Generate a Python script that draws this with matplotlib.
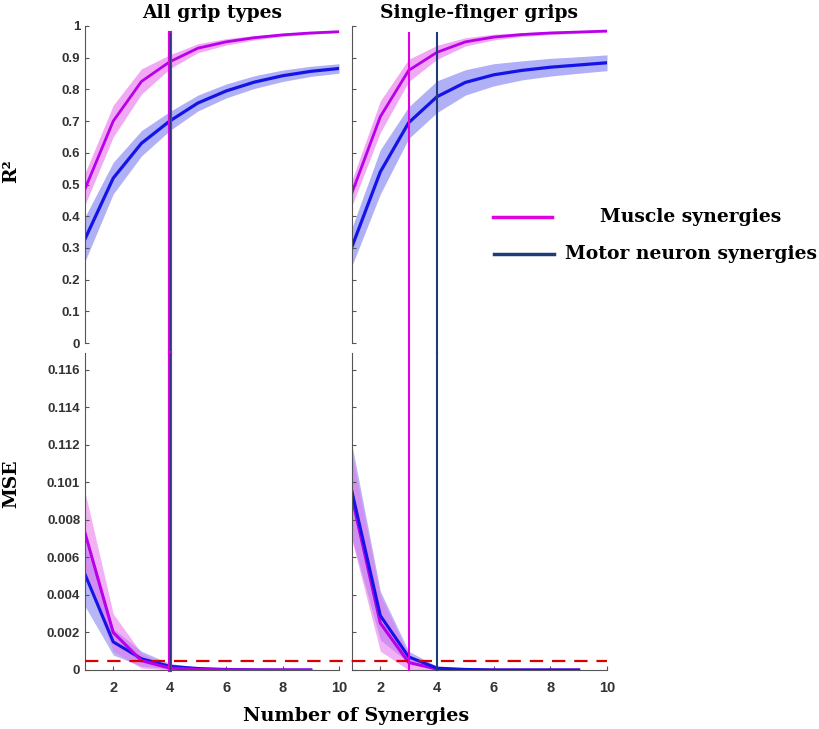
import numpy as np
import matplotlib
matplotlib.use("Agg")
import matplotlib.pyplot as plt
from matplotlib.lines import Line2D

# datos
n_syn = np.arange(1, 11)
n_syn_mse = np.arange(1, 10)

titulos = ["All grip types", "Single-finger grips"]

# R2 (media y desviación)
r2_musc = [[0.486, 0.70, 0.825, 0.887, 0.93, 0.95, 0.963, 0.972, 0.978, 0.982],
           [0.474, 0.714, 0.86, 0.917, 0.95, 0.965, 0.973, 0.978, 0.981, 0.984]]
r2_musc_sd = [[0.05, 0.05, 0.04, 0.022, 0.014, 0.01, 0.007, 0.005, 0.004, 0.003],
              [0.04, 0.05, 0.035, 0.022, 0.013, 0.009, 0.006, 0.005, 0.004, 0.003]]
r2_mn = [[0.328, 0.52, 0.63, 0.70, 0.757, 0.795, 0.823, 0.843, 0.857, 0.866],
         [0.304, 0.54, 0.695, 0.777, 0.822, 0.846, 0.86, 0.87, 0.877, 0.884]]
r2_mn_sd = [[0.07, 0.05, 0.04, 0.03, 0.025, 0.022, 0.02, 0.018, 0.016, 0.015],
            [0.06, 0.07, 0.05, 0.05, 0.04, 0.035, 0.03, 0.028, 0.026, 0.025]]

# MSE (escala "rota" del original)
mse_musc = [[0.0073, 0.0020, 0.0005, 0.0001, 0.00003, 0.00001, 0.0, 0.0, 0.0],
            [0.0092, 0.0025, 0.0004, 0.00005, 0.00001, 0.0, 0.0, 0.0, 0.0]]
mse_musc_sd = [[0.0022, 0.0010, 0.0004, 0.0001, 0.00003, 0.00001, 0.0, 0.0, 0.0],
               [0.0023, 0.0015, 0.0004, 0.0001, 0.00002, 0.0, 0.0, 0.0, 0.0]]
mse_mn = [[0.0051, 0.0015, 0.0006, 0.0002, 0.00008, 0.00003, 0.00001, 0.0, 0.0],
          [0.0095, 0.0029, 0.0007, 0.0001, 0.00003, 0.0, 0.0, 0.0, 0.0]]
mse_mn_sd = [[0.0017, 0.0007, 0.0004, 0.00015, 0.00005, 0.00002, 0.0, 0.0, 0.0],
             [0.0025, 0.0013, 0.0003, 0.0001, 0.00002, 0.0, 0.0, 0.0, 0.0]]

mse_ticks = [0, 0.002, 0.004, 0.006, 0.008, 0.010, 0.012, 0.014, 0.016]
mse_ticklabels = ["0", "0.002", "0.004", "0.006", "0.008", "0.101", "0.112", "0.114", "0.116"]
umbral_mse = 0.0005

# numero de sinergias elegido (musculo, motoneurona)
elegido_musc = [4, 3]
elegido_mn = [4, 4]

c_musc = '#b800ea'
c_musc_band = '#e870ee'
c_mn = '#1414e6'
c_mn_band = '#7c7cf0'
c_vmusc = '#e000e0'
c_vmn = '#203c78'
gris = '#555555'
serif = 'DejaVu Serif'

plt.rcParams['font.family'] = 'Liberation Sans'

fig = plt.figure(figsize=(8.2, 7.29), dpi=100)
W, H = 820, 729

def caja(l, t, r, b):
    return [l / W, 1 - b / H, (r - l) / W, (b - t) / H]

ax_top = [fig.add_axes(caja(85, 26, 339, 343)), fig.add_axes(caja(352, 26, 607, 343))]
ax_bot = [fig.add_axes(caja(85, 353, 339, 670)), fig.add_axes(caja(352, 353, 607, 670))]

for i in range(2):
    at = ax_top[i]
    ab = ax_bot[i]

    # R2
    m = np.array(r2_musc[i]); s = np.array(r2_musc_sd[i])
    at.fill_between(n_syn, m - s, m + s, color=c_musc_band, alpha=0.6, lw=0)
    n = np.array(r2_mn[i]); sn = np.array(r2_mn_sd[i])
    at.fill_between(n_syn, n - sn, n + sn, color=c_mn_band, alpha=0.6, lw=0)
    at.plot(n_syn, m, color=c_musc, lw=2)
    at.plot(n_syn, n, color=c_mn, lw=2.3)

    # MSE
    m2 = np.array(mse_musc[i]); s2 = np.array(mse_musc_sd[i])
    n2 = np.array(mse_mn[i]); sn2 = np.array(mse_mn_sd[i])
    ab.fill_between(n_syn_mse, n2 - sn2, n2 + sn2, color=c_mn_band, alpha=0.55, lw=0)
    ab.fill_between(n_syn_mse, m2 - s2, m2 + s2, color=c_musc_band, alpha=0.55, lw=0)
    if i == 0:
        ab.plot(n_syn_mse, n2, color=c_mn, lw=2.2)
        ab.plot(n_syn_mse, m2, color=c_musc, lw=2.2)
    else:
        ab.plot(n_syn_mse, m2, color=c_musc, lw=2.2)
        ab.plot(n_syn_mse, n2, color=c_mn, lw=2.2)

    # linea de umbral, cruza el hueco entre paneles
    x_fin = 10.5 if i == 0 else 10
    ab.plot([1, x_fin], [umbral_mse, umbral_mse], color='#dd0000', lw=1.6,
            dashes=(6, 4), clip_on=False, zorder=5)

    # lineas verticales del numero elegido
    for ax, y0, y1 in [(at, -0.032, 0.978), (ab, 0, 0.0169)]:
        if i == 0:
            ax.plot([elegido_musc[i]] * 2, [y0, y1], color=c_vmusc, lw=3, clip_on=False, zorder=6)
            ax.plot([elegido_mn[i]] * 2, [y0, y1], color=c_vmn, lw=1, clip_on=False, zorder=7)
        else:
            ax.plot([elegido_musc[i]] * 2, [y0, y1], color=c_vmusc, lw=1.5, clip_on=False, zorder=6)
            ax.plot([elegido_mn[i]] * 2, [y0, y1], color=c_vmn, lw=1.5, clip_on=False, zorder=7)

    # ejes
    at.set_xlim(1, 10)
    at.set_ylim(0, 1)
    ab.set_xlim(1, 10)
    ab.set_ylim(0, 0.0169)
    for ax in (at, ab):
        for sp in ['top', 'right']:
            ax.spines[sp].set_visible(False)
        ax.spines['left'].set_color(gris)
        ax.spines['bottom'].set_color(gris)
        ax.tick_params(direction='in', color=gris, length=3, width=0.8)
    at.spines['bottom'].set_visible(False)
    at.set_xticks([])
    at.set_yticks(np.arange(0, 1.01, 0.1))
    ab.set_yticks(mse_ticks)
    ab.set_xticks([2, 4, 6, 8, 10])
    ab.set_xticklabels(['2', '4', '6', '8', '10'], fontsize=10.5, fontweight='bold', color='#333333')
    if i == 0:
        at.set_yticklabels(['0', '0.1', '0.2', '0.3', '0.4', '0.5', '0.6', '0.7', '0.8', '0.9', '1'],
                           fontsize=9.5, fontweight='bold', color='#333333')
        ab.set_yticklabels(mse_ticklabels, fontsize=9.5, fontweight='bold', color='#333333')
    else:
        at.set_yticklabels([])
        ab.set_yticklabels([])
    ab.tick_params(axis='x', pad=8)
    at.set_title(titulos[i], fontsize=13.5, fontweight='bold', family=serif, pad=6)

fig.text(11 / W, 1 - 171 / H, 'R²', rotation=90, fontsize=13.5, fontweight='bold',
         family=serif, ha='center', va='center')
fig.text(11 / W, 1 - 484 / H, 'MSE', rotation=90, fontsize=13.5, fontweight='bold',
         family=serif, ha='center', va='center')
fig.text(356 / W, 1 - 716 / H, 'Number of Synergies', fontsize=13.8, fontweight='bold',
         family=serif, ha='center', va='center')

# leyenda dibujada a mano
fig.add_artist(Line2D([493 / W, 552 / W], [1 - 217 / H] * 2, color=c_vmusc, lw=2.5))
fig.add_artist(Line2D([494 / W, 554 / W], [1 - 254 / H] * 2, color=c_vmn, lw=2.5))
fig.text(691 / W, 1 - 217 / H, 'Muscle synergies', fontsize=13.5, fontweight='bold',
         family=serif, ha='center', va='center')
fig.text(691 / W, 1 - 254 / H, 'Motor neuron synergies', fontsize=13.5, fontweight='bold',
         family=serif, ha='center', va='center')

plt.savefig("out.png", dpi=100)
